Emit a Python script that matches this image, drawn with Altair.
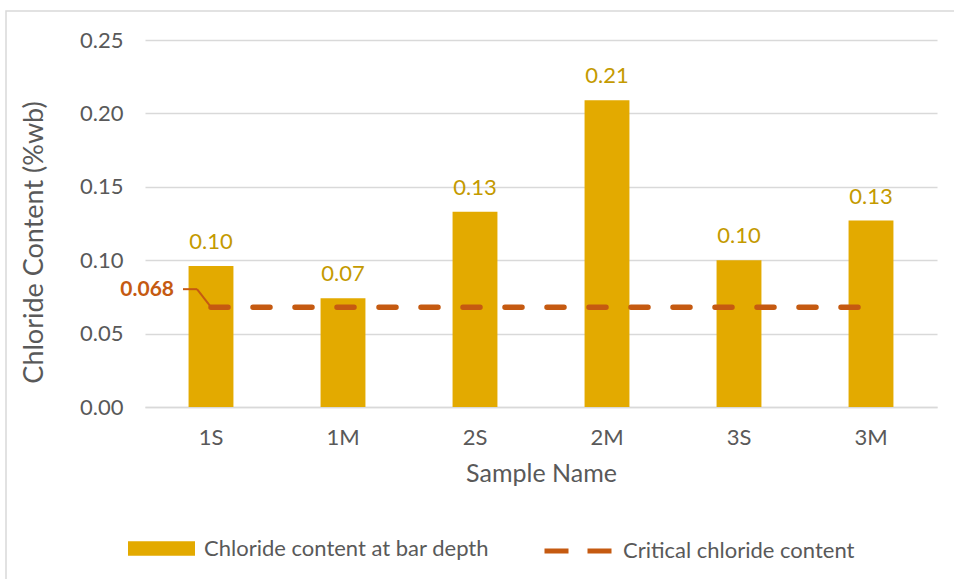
import altair as alt
import pandas as pd

# ---- data ----
samples = ["1S", "1M", "2S", "2M", "3S", "3M"]
chloride = [0.096, 0.074, 0.133, 0.209, 0.100, 0.127]
critical_value = 0.068
critical_label = "0.068"
bar_series = "Chloride content at bar depth"
line_series = "Critical chloride content"
y_ticks = [0.0, 0.05, 0.10, 0.15, 0.20, 0.25]

# ---- styles ----
FONT = "Lato"
GOLD = "#E3AA00"
GOLD_TEXT = "#C49A00"
ORANGE = "#C55A11"
GRID = "#D9D9D9"
TXT = "#595959"

W, H = 792, 367
PAD_L, PAD_T = 145, 40

bars_df = pd.DataFrame({"Sample": samples, "Chloride": chloride, "Series": [bar_series] * len(samples)})
line_df = pd.DataFrame({"Sample": samples, "Critical": [critical_value] * len(samples),
                        "Series": [line_series] * len(samples)})
ann_df = pd.DataFrame({"Sample": [samples[0]], "Critical": [critical_value], "Label": [critical_label]})
frame_df = pd.DataFrame({"k": [0]})

xscale = alt.Scale(domain=samples, paddingInner=0.66, paddingOuter=0.33)
yscale = alt.Scale(domain=[0, 0.25], nice=False)

x_enc = alt.X("Sample:N", scale=xscale,
              axis=alt.Axis(title="Sample Name", labelAngle=0, ticks=False, domain=True,
                            domainColor=GRID, domainWidth=1.5, grid=False,
                            labelFontSize=22, labelColor=TXT, labelFont=FONT, labelPadding=20,
                            titleFontSize=25, titleColor=TXT, titleFont=FONT,
                            titleFontWeight="normal", titlePadding=13))
y_enc = alt.Y("Chloride:Q", scale=yscale,
              axis=alt.Axis(title="Chloride Content (%wb)", values=y_ticks, format=".2f",
                            domain=False, ticks=False, grid=True, gridColor=GRID, gridWidth=1.5,
                            labelFontSize=22, labelColor=TXT, labelFont=FONT, labelPadding=22,
                            titleFontSize=27, titleColor=TXT, titleFont=FONT,
                            titleFontWeight="normal", titlePadding=31, titleY=202))

frame = alt.Chart(frame_df).mark_rect(filled=False, stroke=GRID, strokeWidth=1.5).encode(
    x=alt.value(-139), y=alt.value(-29), x2=alt.value(W + 40), y2=alt.value(H + 200)
)

bars = alt.Chart(bars_df).mark_bar(color=GOLD).encode(
    x=x_enc,
    y=y_enc,
    fill=alt.Fill("Series:N", scale=alt.Scale(domain=[bar_series], range=[GOLD]),
                  legend=alt.Legend(title=None, orient="none", legendX=-17, legendY=475,
                                    symbolType="M-1,-0.22H1V0.22H-1Z", symbolSize=4489,
                                    symbolStrokeWidth=0, labelFontSize=22, labelColor=TXT,
                                    labelFont=FONT, labelOffset=9, labelLimit=0, padding=0)),
)

bar_labels = alt.Chart(bars_df).mark_text(
    baseline="bottom", dy=-12, font=FONT, fontSize=22, color=GOLD_TEXT
).encode(
    x=alt.X("Sample:N", scale=xscale),
    y=alt.Y("Chloride:Q", scale=yscale),
    text=alt.Text("Chloride:Q", format=".2f"),
)

crit_line = alt.Chart(line_df).mark_line(
    strokeDash=[17, 25], strokeWidth=5.5, strokeCap="round"
).encode(
    x=alt.X("Sample:N", scale=xscale),
    y=alt.Y("Critical:Q", scale=yscale),
    stroke=alt.Stroke("Series:N", scale=alt.Scale(domain=[line_series], range=[ORANGE]),
                      legend=alt.Legend(title=None, orient="none", legendX=397, legendY=475,
                                        symbolType="stroke", symbolSize=4489, symbolStrokeWidth=5,
                                        symbolDash=[24, 19], labelFontSize=22, labelColor=TXT,
                                        labelFont=FONT, labelOffset=9, labelLimit=0, padding=0)),
)

leader_diag = alt.Chart(ann_df).mark_rule(
    color=ORANGE, strokeWidth=2, x2Offset=-14, y2Offset=-18
).encode(
    x=alt.X("Sample:N", scale=xscale),
    x2=alt.X2("Sample"),
    y=alt.Y("Critical:Q", scale=yscale),
    y2=alt.Y2("Critical"),
)

leader_h = alt.Chart(ann_df).mark_rule(
    color=ORANGE, strokeWidth=2, xOffset=-14, yOffset=-18, x2Offset=-28, y2Offset=-18
).encode(
    x=alt.X("Sample:N", scale=xscale),
    x2=alt.X2("Sample"),
    y=alt.Y("Critical:Q", scale=yscale),
    y2=alt.Y2("Critical"),
)

crit_text = alt.Chart(ann_df).mark_text(
    align="right", baseline="middle", dx=-37, dy=-17, font=FONT, fontSize=21,
    fontWeight="bold", color=ORANGE
).encode(
    x=alt.X("Sample:N", scale=xscale),
    y=alt.Y("Critical:Q", scale=yscale),
    text="Label:N",
)

chart = alt.layer(
    frame, bars, bar_labels, crit_line, leader_diag, leader_h, crit_text
).resolve_scale(fill="independent", stroke="independent").properties(
    width=W, height=H,
    autosize=alt.AutoSizeParams(type="none"),
    padding={"left": PAD_L, "top": PAD_T, "right": 954 - PAD_L - W, "bottom": 579 - PAD_T - H},
    background="white",
).configure_view(stroke=None)

chart.save("out.html", embed_options={"renderer": "svg", "actions": False})
